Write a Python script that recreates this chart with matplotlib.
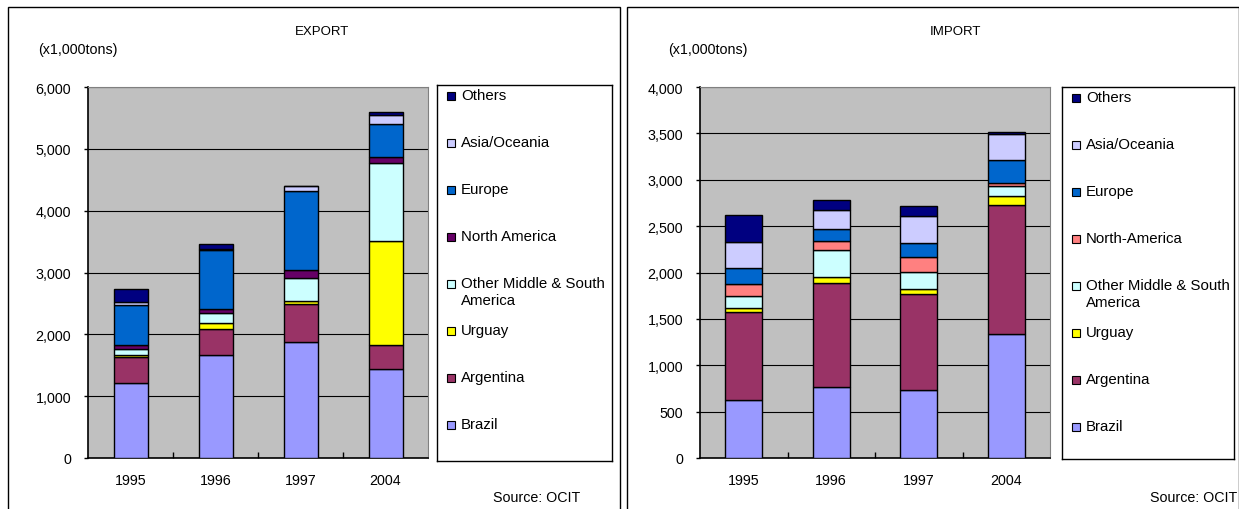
import matplotlib
matplotlib.use("Agg")
import matplotlib.pyplot as plt
from matplotlib.patches import Rectangle
from matplotlib.ticker import FuncFormatter, FixedLocator
import numpy as np

plt.rcParams['font.family'] = ['Liberation Sans', 'DejaVu Sans']

years = ['1995', '1996', '1997', '2004']

export_series = ['Brazil', 'Argentina', 'Urguay', 'Other Middle & South\nAmerica',
                 'North America', 'Europe', 'Asia/Oceania', 'Others']
export_brazil = [1210, 1672, 1876, 1435]
export_argentina = [419, 419, 608, 398]
export_urguay = [32, 97, 54, 1678]
export_omsa = [108, 161, 365, 1258]
export_namerica = [64, 54, 135, 91]
export_europe = [645, 957, 1285, 543]
export_asia = [43, 22, 69, 140]
export_others = [205, 86, 11, 48]

import_series = ['Brazil', 'Argentina', 'Urguay', 'Other Middle & South\nAmerica',
                 'North-America', 'Europe', 'Asia/Oceania', 'Others']
import_brazil = [620, 765, 736, 1342]
import_argentina = [957, 1122, 1028, 1389]
import_urguay = [36, 65, 61, 94]
import_omsa = [137, 295, 184, 112]
import_namerica = [122, 94, 159, 25]
import_europe = [173, 127, 155, 256]
import_asia = [282, 202, 289, 278]
import_others = [288, 108, 108, 21]

export_colors = ['#9999FF', '#993366', '#FFFF00', '#CCFFFF', '#660066', '#0066CC', '#CCCCFF', '#000080']
import_colors = ['#9999FF', '#993366', '#FFFF00', '#CCFFFF', '#FF8080', '#0066CC', '#CCCCFF', '#000080']

W, H = 1239, 510
fig = plt.figure(figsize=(W / 100, H / 100), dpi=100)


def fx(x):
    return x / W


def fy(y):
    return 1 - y / H


def add_ax(x0, y0, x1, y1, **kw):
    return fig.add_axes([fx(x0), fy(y1), fx(x1) - fx(x0), fy(y0) - fy(y1)], **kw)


FS = 10.3
LFS = 10.8


def panel(px0, title, title_x, unit_x, ax_box, leg_box, src_x, data, names, colors,
          ymax, ystep, bar_w):
    fig.patches.append(Rectangle((fx(px0), fy(520)), fx(px0 + 612) - fx(px0),
                                 fy(8) - fy(520), transform=fig.transFigure,
                                 fill=False, edgecolor='black', lw=1.0, clip_on=False))
    fig.text(fx(title_x), fy(32), title, ha='center', va='center', fontsize=9.5)
    fig.text(fx(unit_x), fy(50), '(x1,000tons)', ha='left', va='center', fontsize=FS)
    fig.text(fx(src_x), fy(498), 'Source: OCIT', ha='right', va='center', fontsize=FS)

    ax = add_ax(*ax_box)
    ax.set_facecolor('#C0C0C0')
    x = np.arange(len(years))
    bottom = np.zeros(len(years))
    for vals, c in zip(data, colors):
        ax.bar(x, vals, bar_w, bottom=bottom, color=c, edgecolor='black', lw=1.0, zorder=3)
        bottom = bottom + np.array(vals)
    ax.set_xlim(-0.5, len(years) - 0.5)
    ax.set_ylim(0, ymax)
    ax.set_yticks(np.arange(0, ymax + 1, ystep))
    ax.yaxis.set_major_formatter(FuncFormatter(lambda v, p: f'{int(v):,}'))
    ax.grid(axis='y', color='black', lw=0.8, zorder=1)
    ax.set_xticks(x)
    ax.set_xticklabels(years)
    ax.xaxis.set_minor_locator(FixedLocator(np.arange(0.5, len(years) - 0.5, 1)))
    ax.tick_params(axis='x', which='major', length=0, pad=11, labelsize=FS)
    ax.tick_params(axis='x', which='minor', length=4, direction='in', width=1)
    ax.tick_params(axis='y', length=3, direction='out', pad=9, labelsize=FS, width=1)
    for s in ['top', 'right']:
        ax.spines[s].set_color('#808080')
    for s in ['left', 'bottom']:
        ax.spines[s].set_color('black')
        ax.spines[s].set_linewidth(1.2)

    lx0, ly0, lx1, ly1 = leg_box
    lax = add_ax(lx0, ly0, lx1, ly1)
    lax.set_xlim(lx0, lx1)
    lax.set_ylim(ly1, ly0)
    lax.set_xticks([])
    lax.set_yticks([])
    for s in lax.spines.values():
        s.set_color('black')
        s.set_linewidth(1.0)
    ys = [ly0 + 11 + i * 47 for i in range(8)]
    for yy, name, c in zip(ys, names[::-1], colors[::-1]):
        lax.add_patch(Rectangle((lx0 + 10, yy - 4), 8, 8, facecolor=c,
                                edgecolor='black', lw=0.8))
        lax.text(lx0 + 24, yy - 7.5, name, ha='left', va='top', fontsize=LFS,
                 linespacing=1.2)
    return ax


export_data = [export_brazil, export_argentina, export_urguay, export_omsa,
               export_namerica, export_europe, export_asia, export_others]
import_data = [import_brazil, import_argentina, import_urguay, import_omsa,
               import_namerica, import_europe, import_asia, import_others]

panel(8, 'EXPORT', 322, 38, (88, 88, 428, 459), (437, 86, 612, 462), 580,
      export_data, export_series, export_colors, 6000, 1000, 0.40)
panel(627, 'IMPORT', 955, 668, (700, 88, 1050, 459), (1062, 88, 1234, 460), 1237,
      import_data, import_series, import_colors, 4000, 500, 0.42)

fig.savefig('out.png', dpi=100)
